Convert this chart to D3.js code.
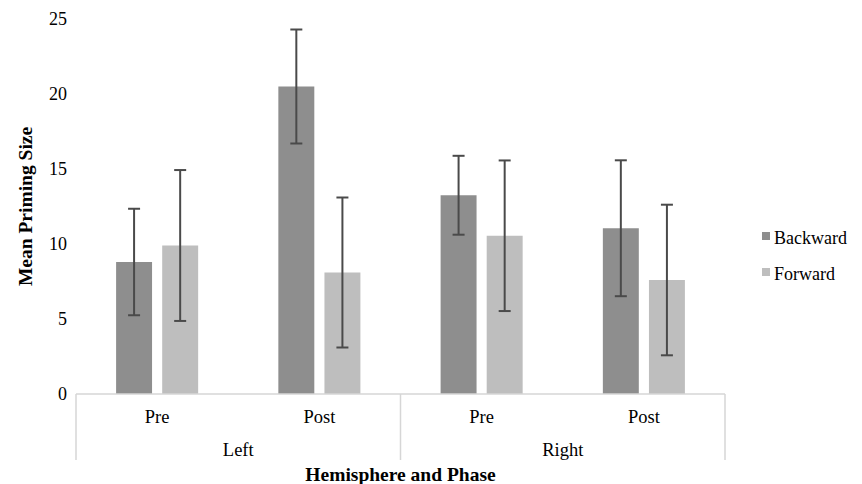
<!DOCTYPE html>
<html>
<head>
<meta charset="utf-8">
<script src="https://d3js.org/d3.v7.min.js"></script>
<style>
  body { margin: 0; background: #fff; }
  text { font-family: "Liberation Serif", "Times New Roman", serif; fill: #000; }
</style>
</head>
<body>
<script>
  // chart values
  let hemispheres = ["Left", "Right"];
  let phases = ["Pre", "Post"];
  let series = ["Backward", "Forward"];
  let backward = [8.8, 20.5, 13.25, 11.05];
  let forward = [9.9, 8.1, 10.55, 7.6];
  let backwardErr = [3.55, 3.8, 2.63, 4.53];
  let forwardErr = [5.03, 5.0, 5.02, 5.02];
  let yTicks = [0, 5, 10, 15, 20, 25];

  let width = 862, height = 484;
  let plotLeft = 76, plotRight = 725, plotTop = 19, plotBottom = 394;
  let colors = { Backward: "#8e8e8e", Forward: "#bebebe" };

  // one group per hemisphere/phase pair
  let groups = [];
  hemispheres.forEach(h => phases.forEach(p => groups.push(h + "|" + p)));
  let rows = groups.map((g, i) => ({
    key: g,
    hemi: g.split("|")[0],
    phase: g.split("|")[1],
    Backward: { v: backward[i], e: backwardErr[i] },
    Forward: { v: forward[i], e: forwardErr[i] }
  }));

  let svg = d3.select("body").append("svg")
    .attr("width", width)
    .attr("height", height);

  let x0 = d3.scaleBand().domain(groups).range([plotLeft, plotRight]);
  let xh = d3.scaleBand().domain(hemispheres).range([plotLeft, plotRight]);
  let x1 = d3.scaleBand().domain(series).range([0, x0.bandwidth()])
    .paddingInner(0.22).paddingOuter(0.87);
  let y = d3.scaleLinear().domain([0, 25]).range([plotBottom, plotTop]);

  // y axis labels only (no line)
  let yAxis = svg.append("g")
    .attr("transform", "translate(" + (plotLeft - 9) + ",0)")
    .call(d3.axisLeft(y).tickValues(yTicks).tickSize(0).tickPadding(0));
  yAxis.select(".domain").remove();
  yAxis.selectAll("text")
    .style("font-size", "18px")
    .style("font-family", "Liberation Serif")
    .attr("fill", "#000");

  // bars
  let bars = svg.append("g");
  series.forEach(s => {
    bars.selectAll(".bar-" + s)
      .data(rows)
      .join("rect")
      .attr("class", "bar-" + s)
      .attr("x", d => x0(d.key) + x1(s))
      .attr("y", d => y(d[s].v))
      .attr("width", x1.bandwidth())
      .attr("height", d => y(0) - y(d[s].v))
      .attr("fill", colors[s]);
  });

  // error bars
  let errs = svg.append("g").attr("stroke", "#4a4a4a").attr("stroke-width", 2);
  series.forEach(s => {
    rows.forEach(d => {
      let cx = x0(d.key) + x1(s) + x1.bandwidth() / 2;
      let hi = y(d[s].v + d[s].e), lo = y(d[s].v - d[s].e);
      errs.append("line").attr("x1", cx).attr("x2", cx).attr("y1", hi).attr("y2", lo);
      errs.append("line").attr("x1", cx - 6).attr("x2", cx + 6).attr("y1", hi).attr("y2", hi);
      errs.append("line").attr("x1", cx - 6).attr("x2", cx + 6).attr("y1", lo).attr("y2", lo);
    });
  });

  // category axis frame
  let frame = svg.append("g").attr("stroke", "#d6d6d6").attr("stroke-width", 1.5);
  frame.append("line").attr("x1", plotLeft).attr("x2", plotRight).attr("y1", y(0)).attr("y2", y(0));
  let seps = [plotLeft].concat(hemispheres.map(h => xh(h) + xh.bandwidth()));
  frame.selectAll(".sep")
    .data(seps)
    .join("line")
    .attr("class", "sep")
    .attr("x1", d => d).attr("x2", d => d)
    .attr("y1", y(0)).attr("y2", 460);

  svg.append("g").selectAll("text")
    .data(rows)
    .join("text")
    .attr("x", d => x0(d.key) + x0.bandwidth() / 2)
    .attr("y", 423)
    .attr("text-anchor", "middle")
    .style("font-size", "18.5px")
    .text(d => d.phase);

  svg.append("g").selectAll("text")
    .data(hemispheres)
    .join("text")
    .attr("x", d => xh(d) + xh.bandwidth() / 2)
    .attr("y", 456)
    .attr("text-anchor", "middle")
    .style("font-size", "18.5px")
    .text(d => d);

  // axis titles
  svg.append("text")
    .attr("x", (plotLeft + plotRight) / 2)
    .attr("y", 481)
    .attr("text-anchor", "middle")
    .style("font-size", "19.5px")
    .style("font-weight", "bold")
    .text("Hemisphere and Phase");

  svg.append("text")
    .attr("transform", "translate(32," + ((plotTop + plotBottom) / 2) + ") rotate(-90)")
    .attr("text-anchor", "middle")
    .style("font-size", "19.5px")
    .style("font-weight", "bold")
    .text("Mean Priming Size");

  // legend
  let legend = svg.append("g").selectAll("g")
    .data(series)
    .join("g")
    .attr("transform", (d, i) => "translate(762," + (232 + i * 36) + ")");
  legend.append("rect")
    .attr("width", 8).attr("height", 8)
    .attr("fill", d => colors[d]);
  legend.append("text")
    .attr("x", 12).attr("y", 12)
    .style("font-size", "18px")
    .text(d => d);
</script>
</body>
</html>
